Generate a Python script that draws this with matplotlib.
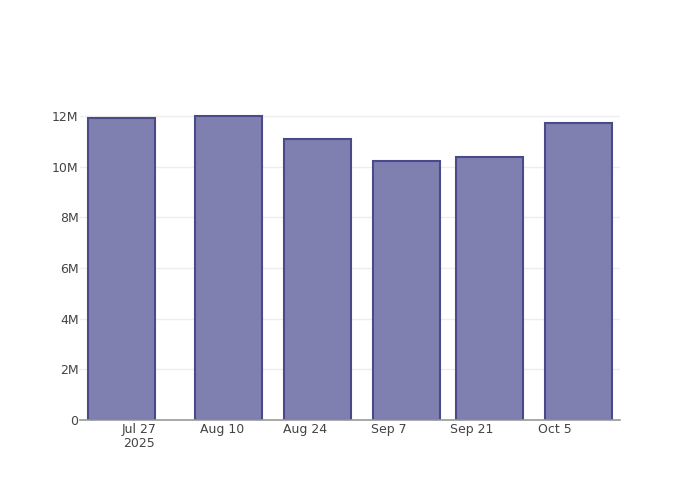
import matplotlib
matplotlib.use("Agg")
import matplotlib.pyplot as plt
import matplotlib.dates as mdates
import numpy as np
from datetime import datetime, timedelta

# Bar data (date, value)
dates = ["2025-07-24", "2025-08-11", "2025-08-26", "2025-09-10", "2025-09-24", "2025-10-09"]
values = [11.92e6, 12.0e6, 11.09e6, 10.22e6, 10.38e6, 11.72e6]

# Axis ticks
tick_dates = ["2025-07-27", "2025-08-10", "2025-08-24", "2025-09-07", "2025-09-21", "2025-10-05"]
tick_labels = ["Jul 27\n2025", "Aug 10", "Aug 24", "Sep 7", "Sep 21", "Oct 5"]
y_ticks = [0, 2e6, 4e6, 6e6, 8e6, 10e6, 12e6]
y_labels = ["0", "2M", "4M", "6M", "8M", "10M", "12M"]

x = [datetime.strptime(d, "%Y-%m-%d") for d in dates]
xt = [datetime.strptime(d, "%Y-%m-%d") for d in tick_dates]

fig = plt.figure(figsize=(7, 5), dpi=100)
ax = fig.add_axes([80 / 700, 80 / 500, 540 / 700, 320 / 500])

ax.bar(x, values, width=11.2, color="#7f80b0", edgecolor="#4a4a8a", linewidth=1.5, zorder=3)

ax.set_xlim(datetime(2025, 7, 17), datetime(2025, 10, 16))
ax.set_ylim(0, 12.63e6)

ax.set_xticks(xt)
ax.set_xticklabels(tick_labels)
ax.set_yticks(y_ticks)
ax.set_yticklabels(y_labels)

ax.tick_params(axis="both", length=0, labelsize=9, labelcolor="#444444")
ax.tick_params(axis="x", pad=2)
ax.tick_params(axis="y", pad=1)
for lbl in ax.get_xticklabels():
    lbl.set_linespacing(1.1)

ax.grid(axis="y", color="#eeeeee", linewidth=1, zorder=0)
for side in ["top", "right", "left"]:
    ax.spines[side].set_visible(False)
ax.spines["bottom"].set_color("#999999")
ax.spines["bottom"].set_linewidth(1.2)
ax.spines["bottom"].set_zorder(4)

fig.savefig("out.png", dpi=100)
